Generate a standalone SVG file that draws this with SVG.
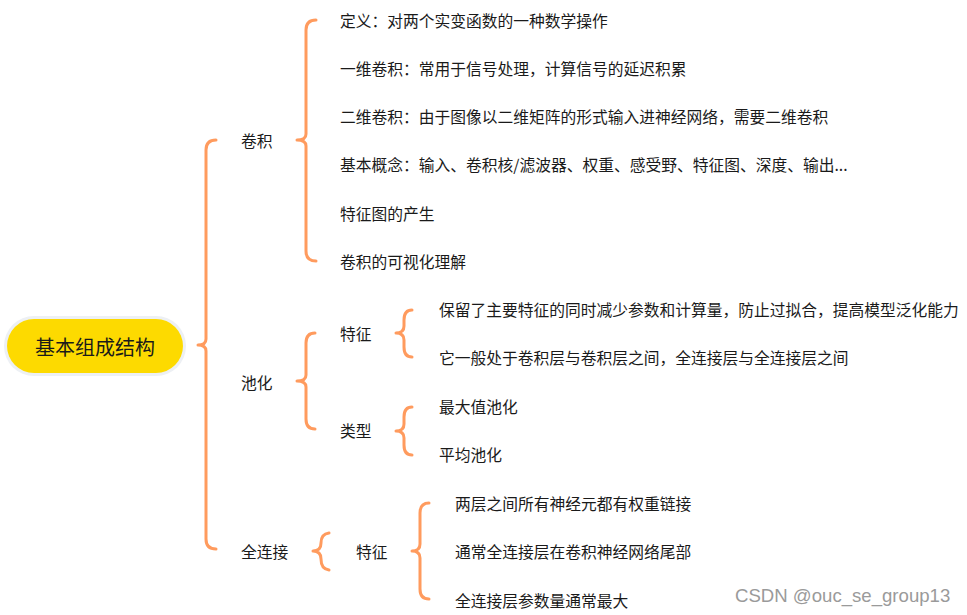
<svg xmlns="http://www.w3.org/2000/svg" width="967" height="615" viewBox="0 0 967 615">
<style>
text{font-family:"Noto Sans CJK SC","Liberation Sans",sans-serif;fill:#1a1a1a;dominant-baseline:central;font-size:15.75px}
.root{font-size:20px;text-anchor:middle}
.br{fill:none;stroke:#FF9B5E;stroke-width:3;stroke-linecap:round;stroke-linejoin:round}
.wm{font-family:"Liberation Sans",Arial,sans-serif;fill:#9a9a9a;font-size:18.6px}
</style>
<rect width="967" height="615" fill="#ffffff"/>
<g id="connectors">
<path class="br" d="M216 140 Q206 140 206 150 L206 339 Q206 345 198 345 Q206 345 206 351 L206 539 Q206 549 216 549"/>
<path class="br" d="M316 20 Q306 20 306 30 L306 134 Q306 140 297 140 Q306 140 306 146 L306 251 Q306 261 316 261"/>
<path class="br" d="M315 333 Q306 333 306 343 L306 375 Q306 381 297 381 Q306 381 306 387 L306 419 Q306 429 315 429"/>
<path class="br" d="M412 310 Q404 310 404 320 L404 326 Q404 333 396 333 Q404 333 404 340 L404 347 Q404 357 412 357"/>
<path class="br" d="M412 407 Q404 407 404 417 L404 424 Q404 431 396 431 Q404 431 404 438 L404 445 Q404 455 412 455"/>
<path class="br" d="M329 533 Q321 534 321 543 Q321 551 313 551 Q321 551 321 559 Q321 569 329 570"/>
<path class="br" d="M429 503 Q420 503 420 513 L420 544 Q420 551 412 551 Q420 551 420 558 L420 589 Q420 599 429 599"/>
</g>
<g id="root">
<rect x="4" y="316" width="182" height="60" rx="30" fill="#EDF0F4"/>
<rect x="7" y="319" width="176" height="54" rx="27" fill="#FDDA00"/>
<text class="root" x="95" y="346">基本组成结构</text>
</g>
<g id="n-juanji"><text x="241" y="140">卷积</text></g>
<g id="n-def"><text x="340" y="20">定义：对两个实变函数的一种数学操作</text></g>
<g id="n-1d"><text x="340" y="68">一维卷积：常用于信号处理，计算信号的延迟积累</text></g>
<g id="n-2d"><text x="340" y="116">二维卷积：由于图像以二维矩阵的形式输入进神经网络，需要二维卷积</text></g>
<g id="n-concept"><text x="340" y="164">基本概念：输入、卷积核/滤波器、权重、感受野、特征图、深度、输出...</text></g>
<g id="n-fmap"><text x="340" y="213">特征图的产生</text></g>
<g id="n-vis"><text x="340" y="261">卷积的可视化理解</text></g>
<g id="n-chihua"><text x="241" y="382">池化</text></g>
<g id="n-ph-feat"><text x="340" y="333">特征</text></g>
<g id="n-ph-f1"><text x="439" y="309">保留了主要特征的同时减少参数和计算量，防止过拟合，提高模型泛化能力</text></g>
<g id="n-ph-f2"><text x="439" y="357">它一般处于卷积层与卷积层之间，全连接层与全连接层之间</text></g>
<g id="n-ph-type"><text x="340" y="430">类型</text></g>
<g id="n-ph-t1"><text x="439" y="406">最大值池化</text></g>
<g id="n-ph-t2"><text x="439" y="454">平均池化</text></g>
<g id="n-fc"><text x="241" y="551">全连接</text></g>
<g id="n-fc-feat"><text x="356" y="551">特征</text></g>
<g id="n-fc-f1"><text x="455" y="503">两层之间所有神经元都有权重链接</text></g>
<g id="n-fc-f2"><text x="455" y="551">通常全连接层在卷积神经网络尾部</text></g>
<g id="n-fc-f3"><text x="455" y="600">全连接层参数量通常最大</text></g>
<text class="wm" x="735" y="595">CSDN @ouc_se_group13</text>
</svg>
